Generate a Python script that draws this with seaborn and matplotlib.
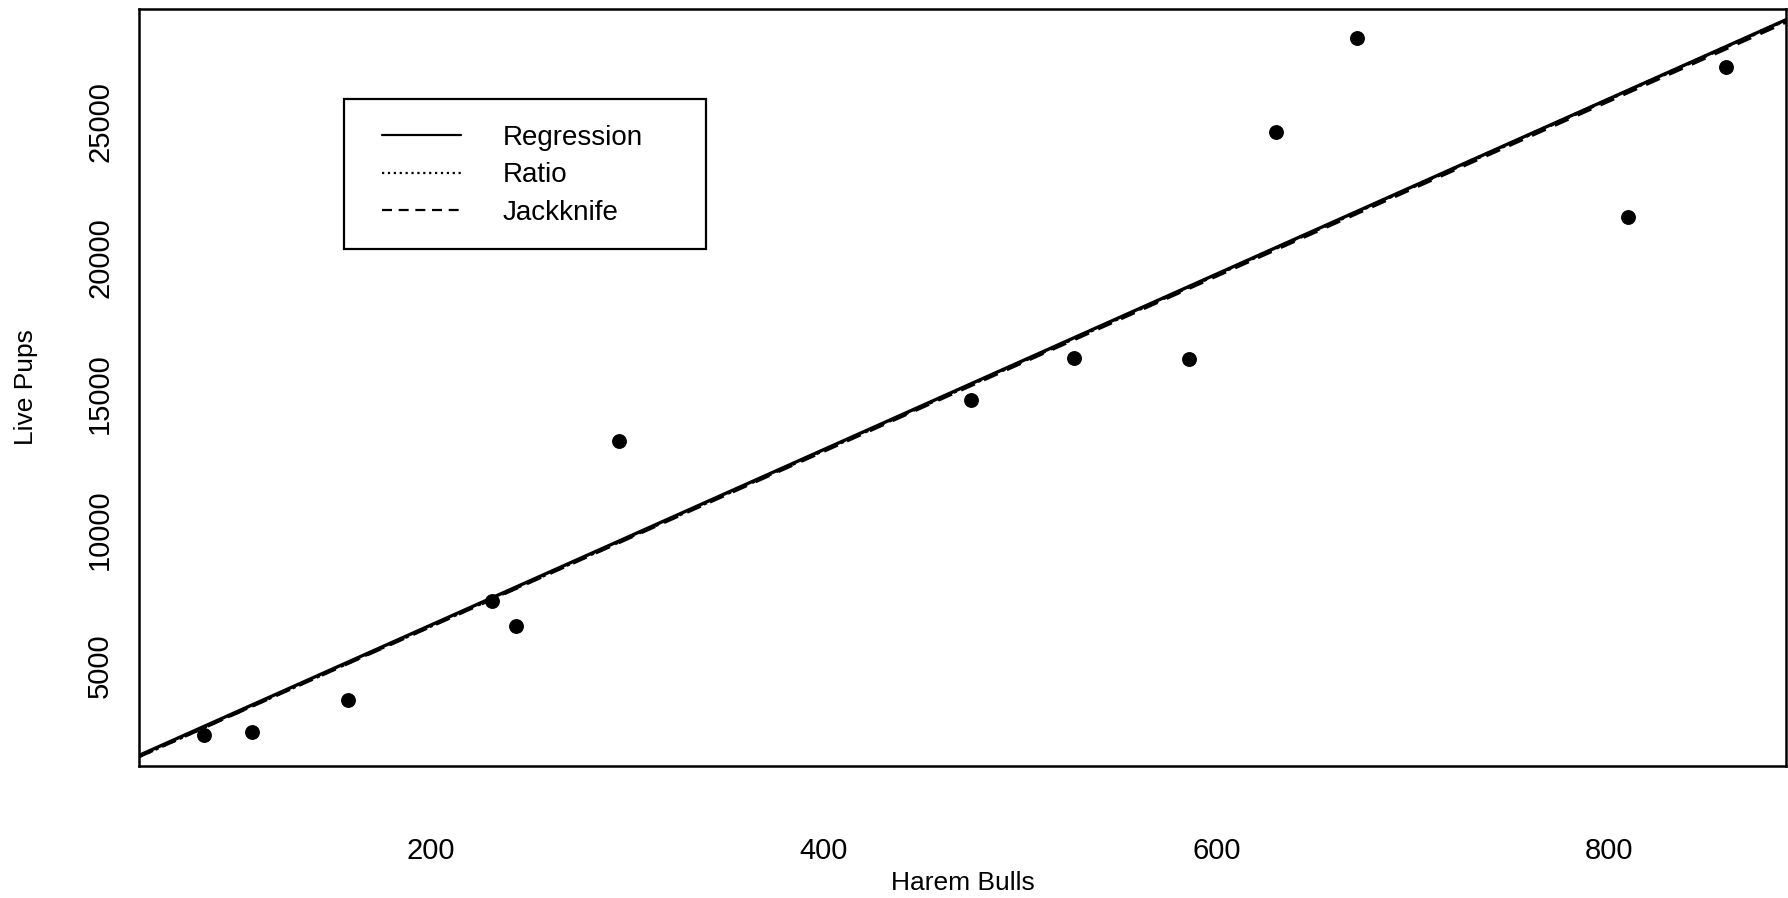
import numpy as np
import pandas as pd
import matplotlib
matplotlib.use('Agg')
import matplotlib.pyplot as plt
import seaborn as sns
from matplotlib.patches import Rectangle

# Harem bulls vs live pups
harem_bulls = [84.5, 108.9, 157.6, 231.3, 243.5, 295.8, 475.2, 527.4, 586.1, 630.2, 671.4, 809.6, 859.5]
live_pups = [2440, 2570, 3740, 7390, 6470, 13260, 14770, 16330, 16290, 24630, 28070, 21490, 27020]

# fitted lines: intercept, slope
fit_names = ['Regression', 'Ratio', 'Jackknife']
fit_intercepts = [40.0, 0.0, 0.0]
fit_slopes = [32.27, 32.30, 32.22]
fit_styles = ['-', ':', (0, (4.5, 3))]

x_ticks = [200, 400, 600, 800]
y_ticks = [5000, 10000, 15000, 20000, 25000]
x_lim = (51.4, 890)
y_lim = (1309, 29153)

sns.set_style('white')
plt.rcParams['font.family'] = ['Liberation Sans', 'DejaVu Sans']
plt.rcParams['text.color'] = 'black'
plt.rcParams['axes.labelcolor'] = 'black'

fig = plt.figure(figsize=(17.88, 8.98), dpi=100)
ax = fig.add_axes([0.0778, 0.147, 0.9212, 0.843])

df = pd.DataFrame({'bulls': harem_bulls, 'pups': live_pups})
sns.scatterplot(data=df, x='bulls', y='pups', ax=ax, color='black', s=115,
                edgecolor='black', linewidth=0, zorder=3)

xs = np.array(x_lim)
handles = []
for name, b0, b1, ls in zip(fit_names, fit_intercepts, fit_slopes, fit_styles):
    sns.lineplot(x=xs, y=b0 + b1 * xs, ax=ax, color='black', linewidth=2.4,
                 linestyle=ls, label=name, legend=False)
    handles.append(plt.Line2D([], [], color='black', linewidth=1.6, linestyle=ls))

ax.set_xlim(*x_lim)
ax.set_ylim(*y_lim)
ax.set_xticks(x_ticks)
ax.set_yticks(y_ticks)
ax.tick_params(axis='both', direction='out', length=6, width=1.2, color='black',
               labelsize=21, labelcolor='black')
ax.tick_params(axis='x', pad=45)
ax.tick_params(axis='y', pad=12, labelrotation=90)
for lbl in ax.get_yticklabels():
    lbl.set_va('center')
for sp in ax.spines.values():
    sp.set_color('black')
    sp.set_linewidth(1.8)

ax.set_xlabel('Harem Bulls', fontsize=19, color='black')
ax.set_ylabel('Live Pups', fontsize=19, color='black')
ax.xaxis.set_label_coords(0.5, -0.139)
ax.yaxis.set_label_coords(-0.0613, 0.5)

# legend box
ax.add_patch(Rectangle((0.1245, 0.683), 0.2195, 0.198, transform=ax.transAxes,
                       fill=False, edgecolor='black', linewidth=1.6, zorder=4))
leg = ax.legend(handles, fit_names, loc='upper left', bbox_to_anchor=(0.1475, 0.847),
                frameon=False, fontsize=20, borderpad=0, borderaxespad=0,
                handlelength=2.86, handletextpad=1.47, labelspacing=0.42)
for t in leg.get_texts():
    t.set_color('black')

fig.savefig('out.png', dpi=100)
